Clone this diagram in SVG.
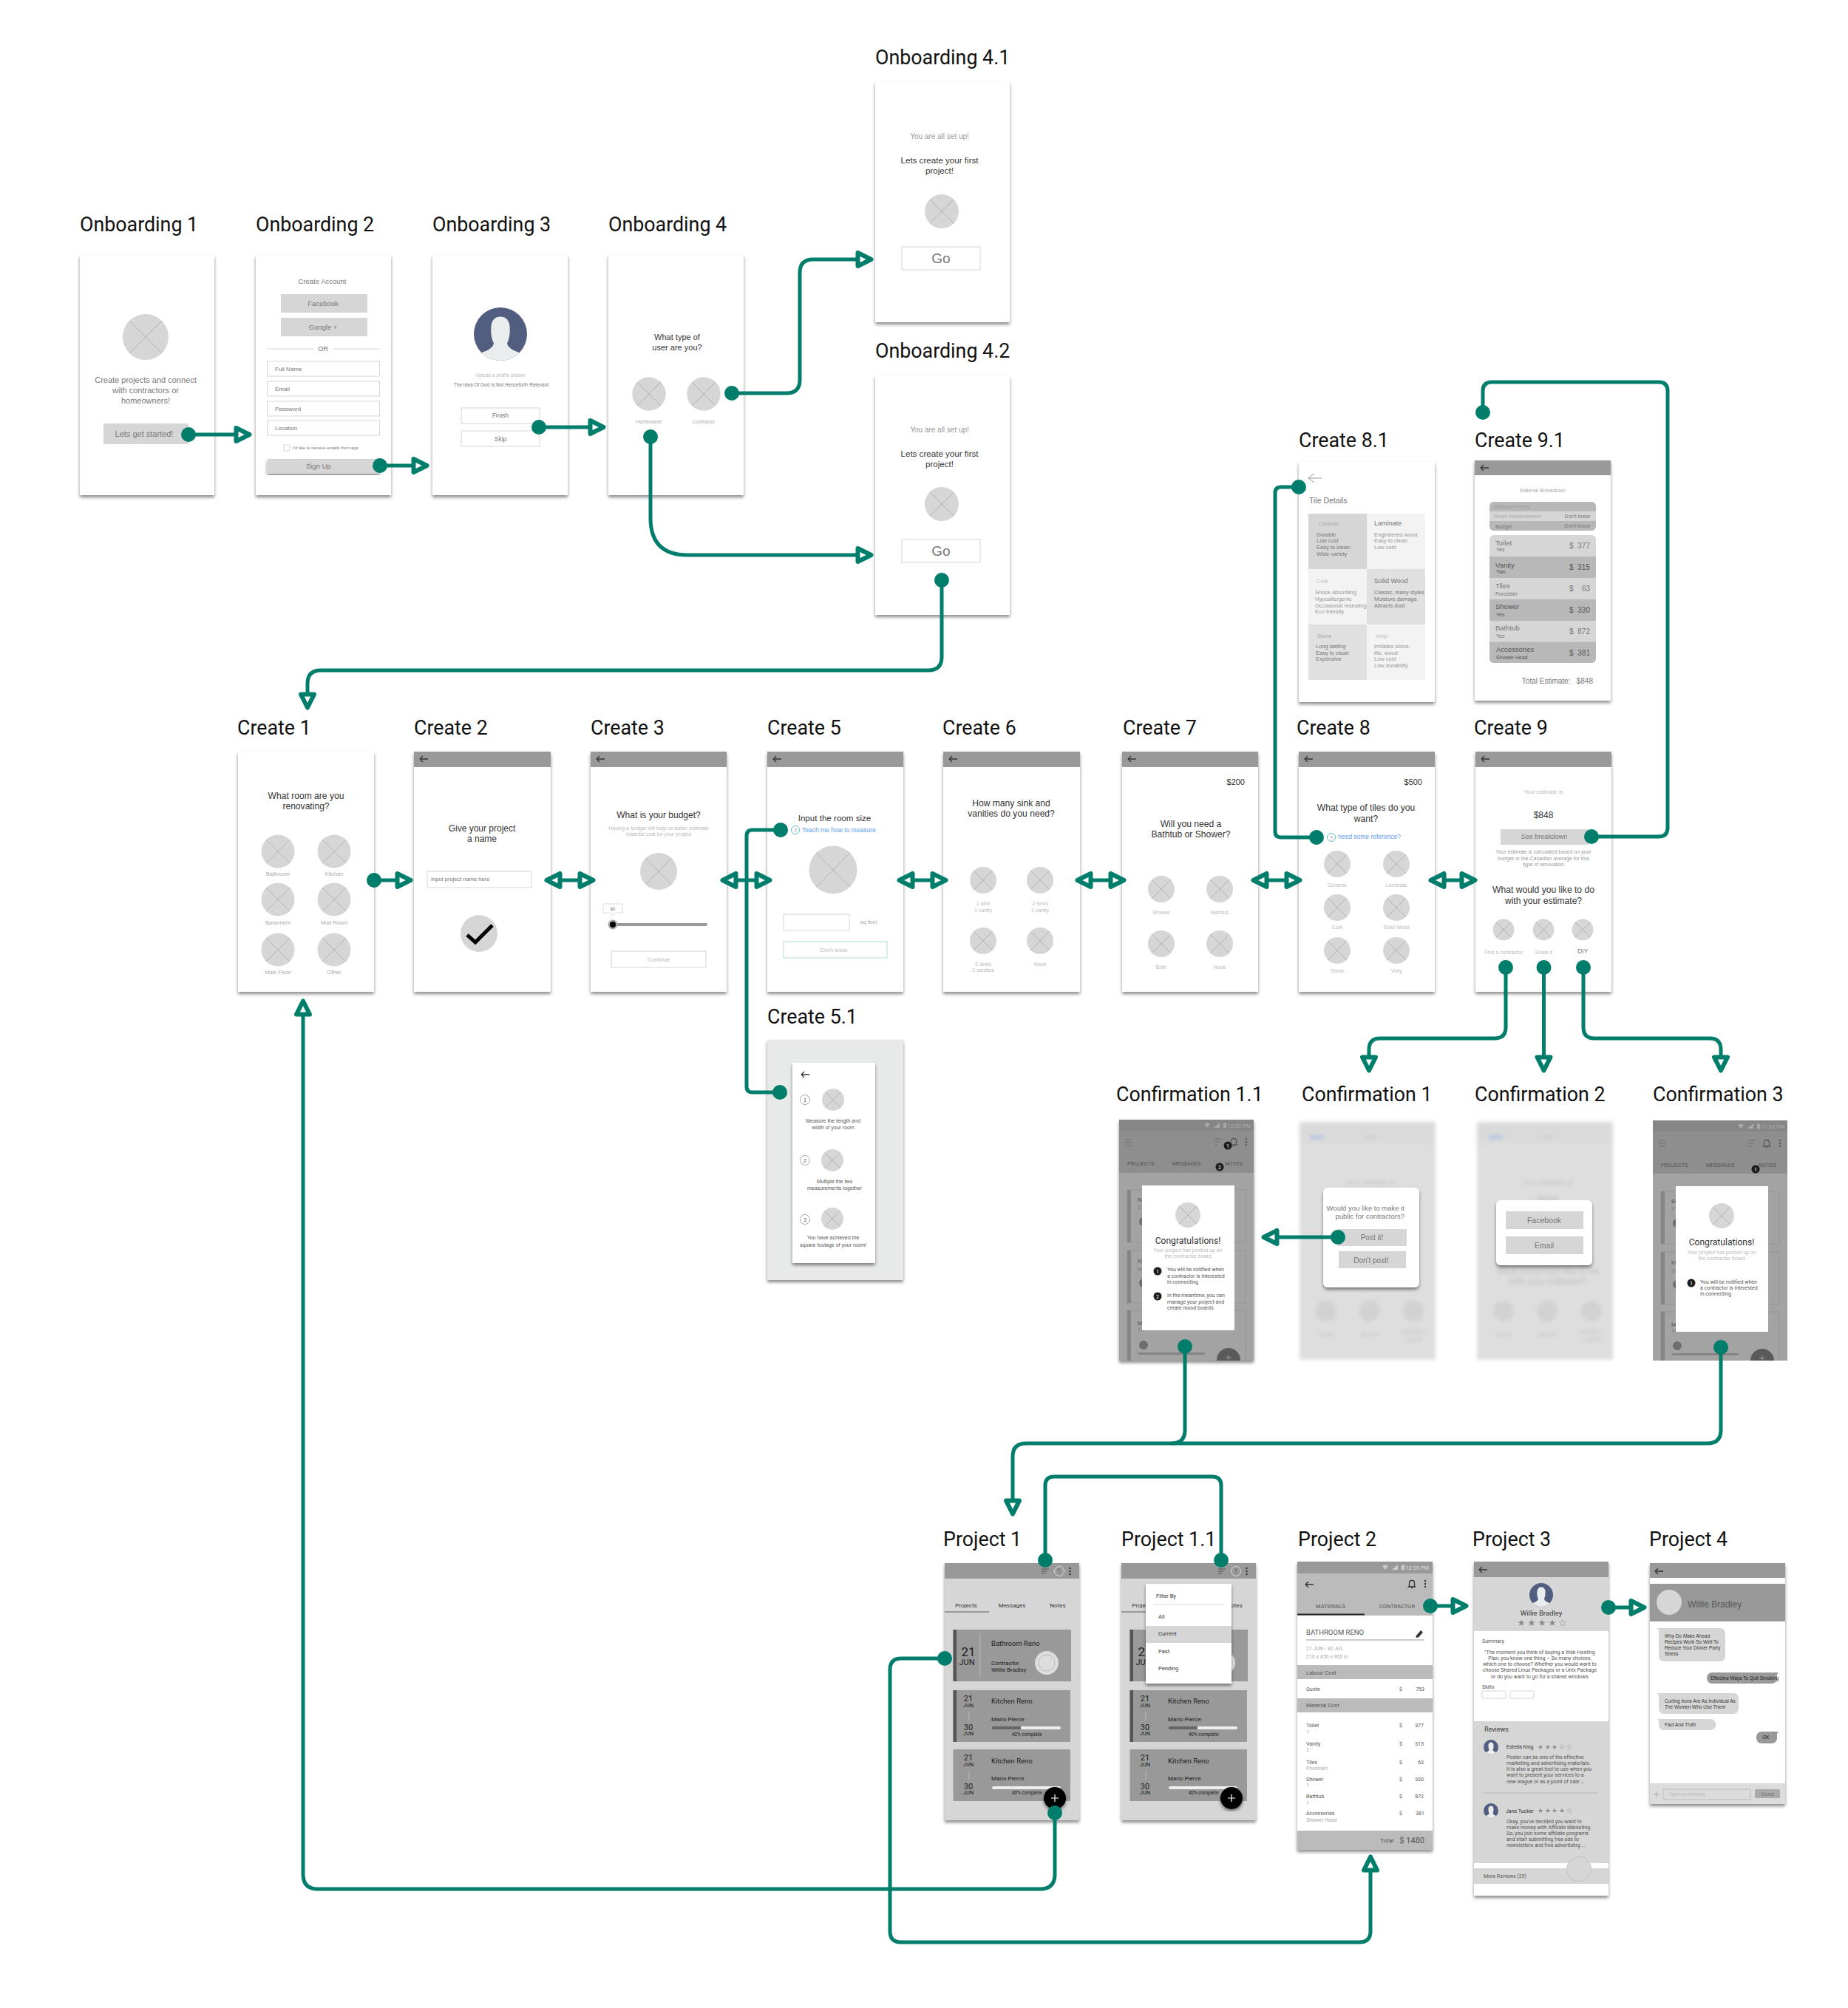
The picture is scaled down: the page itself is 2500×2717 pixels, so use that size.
<svg xmlns="http://www.w3.org/2000/svg" width="2500" height="2717" viewBox="0 0 2500 2717">
<style>
text{font-family:"Liberation Sans",Arial,sans-serif;fill:#555}
.lb{font-family:Roboto,Arial,sans-serif;font-size:26.8px;fill:#111}
.ro{font-family:Roboto,Arial,sans-serif}
.m{text-anchor:middle}.e{text-anchor:end}
.f6{font-size:6px}.f65{font-size:6.5px}.f7{font-size:7px}.f75{font-size:7.5px}.f8{font-size:8px}.f85{font-size:8.5px}.f9{font-size:9px}.f95{font-size:9.5px}.f10{font-size:10px}.f105{font-size:10.5px}.f11{font-size:11px}.f115{font-size:11px}.f12{font-size:11.6px}.f125{font-size:12.100px}.f13{font-size:12px}.f17{font-size:17px}.f19{font-size:19px}
text.c1{fill:#1c1c1c}text.c3{fill:#333}text.c5{fill:#555}text.c7{fill:#777}text.c9{fill:#999}text.ca{fill:#aaa}text.cb{fill:#bbb}text.cd{fill:#ddd}text.cw{fill:#fff}text.bl{fill:#5b9df5}
.scr{fill:#fff;filter:url(#sh)}.hd{fill:#999}.g{fill:#d6d6d6}.g2{fill:#b8b8b9}.g3{fill:#bbb}.g4{fill:#f3f3f3}.g5{fill:#e0e0e0}
.box{fill:#fff;stroke:#d6d6d6;stroke-width:1}.line{stroke:#d6d6d6;stroke-width:1;fill:none}
.ic{fill:none;stroke:#333;stroke-width:1.3}.icw{fill:none;stroke:#eee;stroke-width:1.3}
.sf{fill:#8a8a8a}.se{fill:none;stroke:#aaa;stroke-width:.8}
.bb{fill:#1c1c1c}.q{fill:#fff;stroke:#5bc0be;stroke-width:1}
.conn path{fill:none;stroke:#017d6b;stroke-width:5}
.d{marker-start:url(#dot)}.dd{marker-start:url(#dot);marker-end:url(#dot)}.da{marker-start:url(#dot);marker-end:url(#ar)}.aa{marker-start:url(#ar);marker-end:url(#ar)}
</style>
<defs>
<filter id="sh" x="-10%" y="-5%" width="120%" height="112%"><feDropShadow dx="0" dy="3" stdDeviation="2" flood-color="#000" flood-opacity=".45"/></filter>
<filter id="bl" x="-5%" y="-5%" width="110%" height="110%"><feGaussianBlur stdDeviation="2.400"/></filter>
<clipPath id="avc"><circle r="10"/></clipPath>
<clipPath id="c11"><rect x="1514" y="1515" width="182" height="326"/></clipPath>
<clipPath id="c3c"><rect x="2236" y="1516" width="182" height="325"/></clipPath>
<g id="ph"><circle r="10" fill="#d6d6d6"/><path d="M-7 -7L7 7M-7 7L7 -7" stroke="#aaa" vector-effect="non-scaling-stroke" stroke-width=".8" fill="none"/></g>
<g id="av"><circle r="10" fill="#525e80"/><path clip-path="url(#avc)" fill="#e9eded" d="M-8 10V7.2Q-3 6 -2.5 3.5Q-3.8 1 -3.5 -3Q-3 -6.5 0 -6.5Q3 -6.5 3.5 -3Q3.8 1 2.5 3.5Q3 6 8 7.2V10Z"/></g>
<path id="ba" d="M-5 0H6M-5 0L-1 -4M-5 0L-1 4" class="ic"/>
<polygon id="st" points="0,-5 1.18,-1.55 4.76,-1.55 1.9,.62 2.94,4.05 0,1.9 -2.94,4.05 -1.9,.62 -4.76,-1.55 -1.18,-1.55"/>
<g id="keb"><circle cy="-4" r="1.2" fill="#333"/><circle r="1.2" fill="#333"/><circle cy="4" r="1.2" fill="#333"/></g>
<path id="bell" d="M-3.5 3V-1Q-3.5 -4.5 0 -4.5Q3.5 -4.5 3.5 -1V3L4.5 4H-4.5ZM-1 5.5H1" class="ic"/>
<path id="flt" d="M-5 -3H5M-5 0H2M-5 3H0" fill="none" stroke="#555" stroke-width="1"/>
<g id="stat" fill="#ccc"><path d="M-4 -2Q0 -5 4 -2L0 3Z"/><path d="M9 3H17V-4Z"/><rect x="22" y="-3.5" width="4" height="7"/></g>
<marker id="dot" markerUnits="userSpaceOnUse" markerWidth="22" markerHeight="22" viewBox="0 0 22 22" refX="11" refY="11"><circle cx="11" cy="11" r="10" fill="#017d6b"/></marker>
<marker id="ar" markerUnits="userSpaceOnUse" markerWidth="30" markerHeight="30" viewBox="0 0 30 30" refX="5" refY="15" orient="auto-start-reverse"><path d="M5 6L23 15L5 24Z" fill="#fff" stroke="#017d6b" stroke-width="6" stroke-linejoin="round"/></marker>
</defs>
<rect width="2500" height="2717" fill="#fff"/>

<g id="onboarding-1"><text class="lb" x="108" y="313">Onboarding 1</text><rect class="scr" x="108" y="345" width="182" height="325"/>
<use href="#ph" transform="translate(197 456) scale(3.1)"/>
<text class="f115 m c7" x="197" y="518">Create projects and connect</text><text class="f115 m c7" x="197" y="532">with contractors or</text><text class="f115 m c7" x="197" y="546">homeowners!</text>
<rect class="g" x="140" y="573" width="115" height="28"/><text class="f11 m c7" x="195" y="591">Lets get started!</text></g>

<g id="onboarding-2"><text class="lb" x="346" y="313">Onboarding 2</text><rect class="scr" x="346" y="345" width="183" height="325"/>
<text class="f95 m c7" x="436" y="384">Create Account</text>
<rect class="g" x="380" y="398" width="117" height="25"/><text class="f95 m c7" x="437" y="414">Facebook</text>
<rect class="g" x="380" y="430" width="117" height="25"/><text class="f95 m c7" x="437" y="446">Google +</text>
<path class="line" d="M361.500 472H425M450 472H514"/><text class="f95 m c7" x="437" y="475">OR</text>
<rect class="box" x="361.500" y="489" width="152" height="20"/><text class="f8 c7" x="372" y="502">Full Name</text>
<rect class="box" x="361.500" y="516" width="152" height="20"/><text class="f8 c7" x="372" y="529">Email</text>
<rect class="box" x="361.500" y="543" width="152" height="20"/><text class="f8 c7" x="372" y="556">Password</text>
<rect class="box" x="361.500" y="569" width="152" height="20"/><text class="f8 c7" x="372" y="582">Location</text>
<rect class="box" x="384" y="602" width="8" height="8"/><text class="f6 c7" x="396" y="608">I'd like to receive emails from app</text>
<rect x="361.500" y="621" width="152" height="20" fill="#d6d6d6" style="filter:url(#sh)"/><text class="f95 m c7" x="431" y="634">Sign Up</text></g>

<g id="onboarding-3"><text class="lb" x="585" y="313">Onboarding 3</text><rect class="scr" x="585" y="345" width="183" height="325"/>
<use href="#av" transform="translate(677 452) scale(3.6)"/>
<text class="f65 m cb" x="677" y="510">Upload a profile picture</text><text class="f65 m c7" x="678" y="523">The Idea Of God Is Not Henceforth Relevant</text>
<rect class="box" x="624" y="552" width="106" height="21"/><text class="f85 m c7" x="677" y="565">Finish</text>
<rect class="box" x="624" y="583" width="106" height="21"/><text class="f85 m c7" x="677" y="597">Skip</text></g>

<g id="onboarding-4"><text class="lb" x="823" y="313">Onboarding 4</text><rect class="scr" x="823" y="345" width="183" height="325"/>
<text class="f115 m c3" x="916" y="460">What type of</text><text class="f115 m c3" x="916" y="474">user are you?</text>
<use href="#ph" transform="translate(878 533) scale(2.27)"/><use href="#ph" transform="translate(952 533) scale(2.27)"/>
<text class="f65 m ca" x="878" y="573">Homeowner</text><text class="f65 m ca" x="952" y="573">Contractor</text></g>

<g id="onboarding-4-1"><text class="lb" x="1184" y="87">Onboarding 4.1</text><rect class="scr" x="1184" y="111" width="182" height="325"/>
<text class="f10 m c9" x="1271" y="188">You are all set up!</text><text class="f12 m c3" x="1271" y="221">Lets create your first</text><text class="f12 m c3" x="1271" y="235">project!</text>
<use href="#ph" transform="translate(1274 286) scale(2.3)"/>
<rect class="box" x="1220" y="334" width="106" height="31"/><text class="f19 m c7" x="1273" y="356">Go</text></g>

<g id="onboarding-4-2"><text class="lb" x="1184" y="484">Onboarding 4.2</text><rect class="scr" x="1184" y="508" width="182" height="324"/>
<text class="f10 m c9" x="1271" y="585">You are all set up!</text><text class="f12 m c3" x="1271" y="618">Lets create your first</text><text class="f12 m c3" x="1271" y="632">project!</text>
<use href="#ph" transform="translate(1274 682) scale(2.3)"/>
<rect class="box" x="1220" y="730" width="106" height="31"/><text class="f19 m c7" x="1273" y="752">Go</text></g>

<g id="create-1"><text class="lb" x="321" y="994">Create 1</text><rect class="scr" x="322" y="1017" width="184" height="325"/>
<text class="f125 m c3" x="414" y="1081">What room are you</text><text class="f125 m c3" x="414" y="1095">renovating?</text>
<use href="#ph" transform="translate(376 1152) scale(2.25)"/><use href="#ph" transform="translate(452 1152) scale(2.25)"/>
<use href="#ph" transform="translate(376 1217) scale(2.25)"/><use href="#ph" transform="translate(452 1217) scale(2.25)"/>
<use href="#ph" transform="translate(376 1285) scale(2.25)"/><use href="#ph" transform="translate(452 1285) scale(2.25)"/>
<text class="f75 m ca" x="376" y="1185">Bathroom</text><text class="f75 m ca" x="452" y="1185">Kitchen</text><text class="f75 m ca" x="376" y="1251">Basement</text><text class="f75 m ca" x="452" y="1251">Mud Room</text><text class="f75 m ca" x="376" y="1318">Main Floor</text><text class="f75 m ca" x="452" y="1318">Other</text></g>

<g id="create-2"><text class="lb" x="560" y="994">Create 2</text><rect class="scr" x="560" y="1017" width="185" height="325"/><rect class="hd" x="560" y="1017" width="185" height="21"/><use href="#ba" x="573" y="1027"/>
<text class="f13 m c3" x="652" y="1125">Give your project</text><text class="f13 m c3" x="652" y="1139">a name</text>
<rect class="box" x="578" y="1179" width="141" height="22"/><text class="f75 c7" x="583" y="1192">Input project name here</text>
<circle class="g" cx="648" cy="1263" r="25"/><path d="M632 1265L643 1275L666 1252" fill="none" stroke="#000" stroke-width="5"/></g>

<g id="create-3"><text class="lb" x="799" y="994">Create 3</text><rect class="scr" x="799" y="1017" width="184" height="325"/><rect class="hd" x="799" y="1017" width="184" height="21"/><use href="#ba" x="812" y="1027"/>
<text class="f13 m c3" x="891" y="1107">What is your budget?</text><text class="f7 m cb" x="891" y="1123">Having a budget will help us better estimate</text><text class="f7 m cb" x="891" y="1131">material cost for your project</text>
<use href="#ph" transform="translate(891 1179) scale(2.5)"/>
<path d="M816 1223H842V1235H833L829 1239L825 1235H816Z" fill="#fff" stroke="#ddd" stroke-width="1"/><text class="f6 m c7" x="829" y="1232">$0</text>
<path d="M829 1251H955" stroke="#999" stroke-width="4" stroke-linecap="round"/><circle cx="829" cy="1251" r="6.500" fill="#aaa"/><circle cx="829" cy="1251" r="4" fill="#000"/>
<rect class="box" x="827" y="1287" width="128" height="22"/><text class="f75 m cb" x="891" y="1301">Continue</text></g>

<g id="create-5"><text class="lb" x="1038" y="994">Create 5</text><rect class="scr" x="1038" y="1017" width="184" height="325"/><rect class="hd" x="1038" y="1017" width="184" height="21"/><use href="#ba" x="1051" y="1027"/>
<text class="f12 m c3" x="1129" y="1111">Input the room size</text><circle class="q" cx="1076" cy="1123" r="5.500"/><text class="f7 m c7" x="1076" y="1126">?</text><text class="f85 bl" x="1085" y="1126">Teach me how to measure</text>
<use href="#ph" transform="translate(1127 1177) scale(3.25)"/>
<rect class="box" x="1060" y="1237" width="89" height="22"/><text class="f75 m ca" x="1175" y="1250">sq feet</text>
<rect x="1060" y="1274" width="140" height="22" fill="#fff" stroke="#a8dcd9"/><text class="f75 m cb" x="1128" y="1288">Don't know</text></g>

<g id="create-6"><text class="lb" x="1275" y="994">Create 6</text><rect class="scr" x="1276" y="1017" width="185" height="325"/><rect class="hd" x="1276" y="1017" width="185" height="21"/><use href="#ba" x="1289" y="1027"/>
<text class="f125 m c3" x="1368" y="1091">How many sink and</text><text class="f125 m c3" x="1368" y="1105">vanities do you need?</text>
<use href="#ph" transform="translate(1330 1191) scale(1.8)"/><use href="#ph" transform="translate(1407 1191) scale(1.8)"/><use href="#ph" transform="translate(1330 1273) scale(1.8)"/><use href="#ph" transform="translate(1407 1273) scale(1.8)"/>
<text class="f7 m cb" x="1330" y="1225">1 sink</text><text class="f7 m cb" x="1330" y="1234">1 vanity</text><text class="f7 m cb" x="1407" y="1225">2 sinks</text><text class="f7 m cb" x="1407" y="1234">1 vanity</text><text class="f7 m cb" x="1330" y="1307">2 sinks</text><text class="f7 m cb" x="1330" y="1315">2 vanities</text><text class="f7 m cb" x="1407" y="1307">None</text></g>

<g id="create-7"><text class="lb" x="1519" y="994">Create 7</text><rect class="scr" x="1518" y="1017" width="184" height="325"/><rect class="hd" x="1518" y="1017" width="184" height="21"/><use href="#ba" x="1531" y="1027"/>
<text class="f11 e c3" x="1684" y="1062">$200</text><text class="f125 m c3" x="1611" y="1119">Will you need a</text><text class="f125 m c3" x="1611" y="1133">Bathtub or Shower?</text>
<use href="#ph" transform="translate(1571 1203) scale(1.8)"/><use href="#ph" transform="translate(1650 1203) scale(1.8)"/><use href="#ph" transform="translate(1571 1277) scale(1.8)"/><use href="#ph" transform="translate(1650 1277) scale(1.8)"/>
<text class="f7 m cb" x="1571" y="1237">Shower</text><text class="f7 m cb" x="1650" y="1237">Bathtub</text><text class="f7 m cb" x="1571" y="1311">Both</text><text class="f7 m cb" x="1650" y="1311">None</text></g>

<g id="create-8"><text class="lb" x="1754" y="994">Create 8</text><rect class="scr" x="1757" y="1017" width="184" height="325"/><rect class="hd" x="1757" y="1017" width="184" height="21"/><use href="#ba" x="1770" y="1027"/>
<text class="f11 e c3" x="1924" y="1062">$500</text><text class="f125 m c3" x="1848" y="1097">What type of tiles do you</text><text class="f125 m c3" x="1848" y="1112">want?</text>
<circle class="q" cx="1801" cy="1133" r="5.500"/><text class="f7 m c7" x="1801" y="1136">?</text><text class="f85 bl" x="1810" y="1135">need some reference?</text>
<use href="#ph" transform="translate(1809 1169) scale(1.8)"/><use href="#ph" transform="translate(1889 1169) scale(1.8)"/><use href="#ph" transform="translate(1809 1228) scale(1.8)"/><use href="#ph" transform="translate(1889 1228) scale(1.8)"/><use href="#ph" transform="translate(1809 1286) scale(1.8)"/><use href="#ph" transform="translate(1889 1286) scale(1.8)"/>
<text class="f7 m cb" x="1809" y="1200">Ceramic</text><text class="f7 m cb" x="1889" y="1200">Laminate</text><text class="f7 m cb" x="1809" y="1257">Cork</text><text class="f7 m cb" x="1889" y="1257">Solid Wood</text><text class="f7 m cb" x="1809" y="1316">Stone</text><text class="f7 m cb" x="1889" y="1316">Vinly</text></g>

<g id="create-9"><text class="lb" x="1994" y="994">Create 9</text><rect class="scr" x="1996" y="1017" width="184" height="325"/><rect class="hd" x="1996" y="1017" width="184" height="21"/><use href="#ba" x="2009" y="1027"/>
<text class="f75 m cb" x="2088" y="1074">Your estimate is</text><text class="f13 m c3" x="2088" y="1107">$848</text>
<rect class="g" x="2030" y="1122" width="119" height="21"/><text class="f9 m c7" x="2089" y="1135">See breakdown</text>
<text class="f7 m c9" x="2088" y="1155">Your estimate is calculated based on your</text><text class="f7 m c9" x="2088" y="1164">budget or the Canadian average for this</text><text class="f7 m c9" x="2088" y="1172">type of renovation</text>
<text class="f125 m c3" x="2088" y="1208">What would you like to do</text><text class="f125 m c3" x="2088" y="1223">with your estimate?</text>
<use href="#ph" transform="translate(2034 1258) scale(1.45)"/><use href="#ph" transform="translate(2088 1258) scale(1.45)"/><use href="#ph" transform="translate(2141 1258) scale(1.45)"/>
<text class="f7 m cb" x="2034" y="1291">Find a contractor</text><text class="f7 m cb" x="2088" y="1291">Share it</text><text class="f85 m c7" x="2141" y="1290">DIY</text></g>

<g id="create-5-1"><text class="lb" x="1038" y="1385">Create 5.1</text><rect x="1038" y="1407" width="184" height="325" fill="#e8eaea" style="filter:url(#sh)"/><rect class="scr" x="1072" y="1438" width="112" height="271"/>
<use href="#ba" x="1089" y="1454"/>
<circle cx="1089" cy="1488" r="6.500" fill="#fff" stroke="#aaa"/><text class="f7 m c5" x="1089" y="1490.500">1</text><use href="#ph" transform="translate(1127 1488) scale(1.5)"/>
<text class="f7 m c5" x="1127" y="1519">Measure the length and</text><text class="f7 m c5" x="1127" y="1528">width of your room</text>
<circle cx="1089" cy="1570" r="6.500" fill="#fff" stroke="#aaa"/><text class="f7 m c5" x="1089" y="1572.500">2</text><use href="#ph" transform="translate(1126 1570) scale(1.5)"/>
<text class="f7 m c5" x="1129" y="1601">Multiple the two</text><text class="f7 m c5" x="1129" y="1610">measurements together</text>
<circle cx="1089" cy="1650" r="6.500" fill="#fff" stroke="#aaa"/><text class="f7 m c5" x="1089" y="1652.500">3</text><use href="#ph" transform="translate(1126 1649) scale(1.5)"/>
<text class="f7 m c5" x="1127" y="1677">You have achieved the</text><text class="f7 m c5" x="1127" y="1687">square footage of your room!</text></g>

<g id="create-8-1"><text class="lb" x="1757" y="605">Create 8.1</text><rect class="scr" x="1757" y="625" width="184" height="325"/>
<path d="M1770 647H1788M1770 647L1778 641M1770 647L1778 653" fill="none" stroke="#999"/>
<text class="f105 c7" x="1771" y="681">Tile Details</text>
<rect class="g" x="1770" y="695" width="79" height="75"/><rect class="g4" x="1849" y="695" width="79" height="75"/><rect class="g4" x="1770" y="770" width="79" height="75"/><rect class="g5" x="1849" y="770" width="79" height="75"/><rect class="g5" x="1770" y="845" width="79" height="75"/><rect class="g4" x="1849" y="845" width="79" height="75"/>
<text class="f75 ca" x="1784" y="711">Ceramic</text><text class="f75 c7" x="1781" y="726">Durable</text><text class="f75 c7" x="1781" y="734">Low cost</text><text class="f75 c7" x="1781" y="743">Easy to clean</text><text class="f75 c7" x="1781" y="752">Wide  variety</text>
<text class="f9 c7" x="1859" y="711">Laminate</text><text class="f75 c9" x="1859" y="726">Engineered wood</text><text class="f75 c9" x="1859" y="734">Easy to clean</text><text class="f75 c9" x="1859" y="743">Low cost</text>
<text class="f75 cb" x="1781" y="789">Cork</text><text class="f75 c9" x="1779" y="804">Shock absorbing</text><text class="f75 c9" x="1779" y="813">Hypoallergenic</text><text class="f75 c9" x="1779" y="822">Occasional resealing</text><text class="f75 c9" x="1779" y="830">Eco friendly</text>
<text class="f9 c7" x="1859" y="789">Solid Wood</text><text class="f75 c7" x="1859" y="804">Classic, many styles</text><text class="f75 c7" x="1859" y="813">Moisture damage</text><text class="f75 c7" x="1859" y="822">Attracts dust</text>
<text class="f75 ca" x="1782" y="863">Stone</text><text class="f75 c7" x="1780" y="877">Long lasting</text><text class="f75 c7" x="1780" y="886">Easy to clean</text><text class="f75 c7" x="1780" y="894">Expensive</text>
<text class="f75 cb" x="1861" y="863">Vinyl</text><text class="f75 c9" x="1859" y="877">Imitates stone,</text><text class="f75 c9" x="1859" y="886">tile, wood</text><text class="f75 c9" x="1859" y="894">Low  cost</text><text class="f75 c9" x="1859" y="903">Low durability</text></g>

<g id="create-9-1"><text class="lb" x="1995" y="605">Create 9.1</text><rect class="scr" x="1995" y="623" width="184" height="325"/><rect class="hd" x="1995" y="623" width="184" height="20"/><use href="#ba" x="2008" y="633"/>
<text class="f7 m ca" x="2087" y="666">Material Breakdown</text>
<rect class="g" x="2015" y="679" width="144" height="39" rx="6"/><path class="g2" d="M2015 692V685a6 6 0 0 1 6 -6H2153a6 6 0 0 1 6 6V692ZM2015 705H2159V712a6 6 0 0 1 -6 6H2021a6 6 0 0 1 -6 -6Z"/>
<text class="f7 c9" x="2021" y="688">Bathroom Reno</text><text class="f7 ca" x="2021" y="701">Room Measurement</text><text class="f7 e c7" x="2151" y="701">Don't know</text><text class="f7 c7" x="2023" y="715">Budget</text><text class="f7 e c7" x="2151" y="714">Don't know</text>
<rect class="g" x="2015" y="724" width="144" height="173" rx="6"/><rect class="g2" x="2015" y="753" width="144" height="29"/><rect class="g2" x="2015" y="811" width="144" height="29"/><path class="g2" d="M2015 868.500H2159V891a6 6 0 0 1 -6 6H2021a6 6 0 0 1 -6 -6Z"/>
<text class="f95 c7" x="2023" y="738">Toilet</text><text class="f7 c7" x="2024" y="746">Yes</text><text class="f10 c7" x="2123" y="742">$</text><text class="f10 e c7" x="2151" y="742">377</text>
<text class="f95 c5" x="2023" y="768">Vanity</text><text class="f7 c5" x="2024" y="776">Two</text><text class="f10 c5" x="2123" y="771">$</text><text class="f10 e c5" x="2151" y="771">315</text>
<text class="f95 c7" x="2023" y="796">Tiles</text><text class="f7 c7" x="2023" y="806">Porcelain</text><text class="f10 c7" x="2123" y="800">$</text><text class="f10 e c7" x="2151" y="800">63</text>
<text class="f95 c5" x="2023" y="824">Shower</text><text class="f7 c5" x="2024" y="834">Yes</text><text class="f10 c5" x="2123" y="829">$</text><text class="f10 e c5" x="2151" y="829">330</text>
<text class="f95 c7" x="2023" y="853">Bathtub</text><text class="f7 c7" x="2024" y="863">Yes</text><text class="f10 c7" x="2123" y="858">$</text><text class="f10 e c7" x="2151" y="858">872</text>
<text class="f95 c5" x="2024" y="882">Accessories</text><text class="f7 c5" x="2024" y="892">Shower Head</text><text class="f10 c5" x="2123" y="887">$</text><text class="f10 e c5" x="2151" y="887">381</text>
<text class="f10 e c7" x="2155" y="925" xml:space="preserve">Total Estimate:   $848</text></g>

<g id="confirmation-1-1"><text class="lb" x="1510" y="1490">Confirmation 1.1</text><rect x="1514" y="1515" width="182" height="326" fill="#a3a3a3" style="filter:url(#sh)"/>
<g clip-path="url(#c11)"><rect x="1514" y="1515" width="182" height="72" fill="#8e8e8e"/><rect x="1514" y="1515" width="182" height="15" fill="#868686"/>
<use href="#stat" x="1633" y="1523" opacity=".5"/><text class="ro f75 e ca" x="1692" y="1526">12:30 PM</text>
<path d="M1522 1542H1531M1522 1546H1531M1522 1550H1531M1643 1541H1653M1643 1545H1650M1643 1549H1647" stroke="#6e6e6e" fill="none"/><use href="#bell" x="1669" y="1545" opacity=".6"/><use href="#keb" x="1686" y="1545" opacity=".6"/>
<text class="ro f75 c5" x="1525" y="1577">PROJECTS</text><text class="ro f75 c5" x="1586" y="1577">MESSAGES</text><text class="ro f75 c5" x="1657" y="1577">NOTES</text>
<circle class="bb" cx="1661" cy="1550" r="5.500"/><text class="ro f7 m cw" x="1661" y="1552.500">1</text><circle class="bb" cx="1650" cy="1579" r="5.500"/><text class="ro f7 m cw" x="1650" y="1581.500">2</text>
<rect x="1525" y="1610" width="160" height="71" fill="#a3a3a3" stroke="#969696"/><rect x="1525" y="1610" width="5" height="71" fill="#858585"/><rect x="1525" y="1692" width="160" height="71" fill="#a3a3a3" stroke="#969696"/><rect x="1525" y="1692" width="5" height="71" fill="#858585"/><rect x="1525" y="1773" width="160" height="80" fill="#a3a3a3" stroke="#969696"/><rect x="1525" y="1773" width="5" height="80" fill="#858585"/>
<text class="ro f75 c5" x="1539" y="1626">Ba</text><text class="ro f75 c7" x="1539" y="1636">21</text><text class="ro f75 c5" x="1539" y="1709">Ki</text><text class="ro f75 c7" x="1539" y="1720">08</text><text class="ro f75 c5" x="1539" y="1793">Mi</text><text class="ro f75 c7" x="1539" y="1801">14</text>
<circle cx="1547" cy="1653" r="6" fill="#6e6e6e"/><circle cx="1547" cy="1736" r="6" fill="#6e6e6e"/><circle cx="1547" cy="1820" r="6" fill="#6e6e6e"/><rect x="1540" y="1830" width="90" height="3" fill="#858585"/>
<circle cx="1662" cy="1840" r="16" fill="#5a5a5a"/><path d="M1662 1833V1841M1658 1837H1666" stroke="#999"/>
<rect x="1545" y="1604" width="125" height="196" fill="#fff"/>
<use href="#ph" transform="translate(1607 1644) scale(1.7)"/><text class="ro f125 m c3" x="1607" y="1683">Congratulations!</text><text class="ro f7 m cb" x="1607" y="1694">Your project has posted up on</text><text class="ro f7 m cb" x="1607" y="1702">the contractor board</text>
<circle class="bb" cx="1566" cy="1720" r="5.500"/><text class="ro f7 m cw" x="1566" y="1722.500">1</text><text class="ro f7 c5" x="1579" y="1720">You will be notified when</text><text class="ro f7 c5" x="1579" y="1729">a contractor is interested</text><text class="ro f7 c5" x="1579" y="1737">in connecting</text>
<circle class="bb" cx="1566" cy="1754" r="5.500"/><text class="ro f7 m cw" x="1566" y="1756.500">2</text><text class="ro f7 c5" x="1579" y="1755">In the meantime, you can</text><text class="ro f7 c5" x="1579" y="1764">manage your project and</text><text class="ro f7 c5" x="1579" y="1772">create mood boards</text></g></g>

<g id="confirmation-1"><text class="lb" x="1761" y="1490">Confirmation 1</text>
<g filter="url(#bl)"><rect x="1758" y="1518" width="184" height="322" fill="#dedede"/><rect x="1758" y="1518" width="184" height="30" fill="#dadada"/><text class="f8 bl" x="1773" y="1541">Back</text><text class="f8 m cb" x="1854" y="1541">Title</text><text class="f95 m cb" x="1854" y="1603">Your estimate is</text>
<circle cx="1794" cy="1774" r="14" fill="#d2d2d2"/><circle cx="1853" cy="1774" r="14" fill="#d2d2d2"/><circle cx="1912" cy="1774" r="14" fill="#d2d2d2"/><text class="f75 m cb" x="1794" y="1808">Post it</text><text class="f75 m cb" x="1853" y="1808">Share it</text><text class="f75 m cb" x="1912" y="1804">Manage it</text><text class="f75 m cb" x="1912" y="1815">myself</text></g>
<rect class="scr" x="1790" y="1607" width="130" height="135" rx="6"/><text class="f95 e c7" x="1900" y="1638">Would you like to make it</text><text class="f95 e c7" x="1900" y="1649">public for contractors?</text>
<rect class="g" x="1810" y="1663" width="93" height="23"/><text class="f10 m c7" x="1856" y="1678">Post it!</text><rect class="g" x="1811" y="1693" width="91" height="23"/><text class="f10 m c7" x="1855" y="1709">Don't post!</text></g>

<g id="confirmation-2"><text class="lb" x="1995" y="1490">Confirmation 2</text>
<g filter="url(#bl)"><rect x="1998" y="1518" width="184" height="322" fill="#dedede"/><rect x="1998" y="1518" width="184" height="30" fill="#dadada"/><text class="f8 bl" x="2015" y="1541">Back</text><text class="f8 m cb" x="2094" y="1541">Title</text><text class="f95 m cb" x="2094" y="1603">Your estimate is</text><text class="f13 m cb" x="2094" y="1627">$848</text><text class="f125 m cb" x="2094" y="1724">What would you like to do</text><text class="f125 m cb" x="2094" y="1738">with your estimate?</text>
<circle cx="2034" cy="1774" r="14" fill="#d2d2d2"/><circle cx="2093" cy="1774" r="14" fill="#d2d2d2"/><circle cx="2153" cy="1774" r="14" fill="#d2d2d2"/><text class="f75 m cb" x="2034" y="1808">Post it</text><text class="f75 m cb" x="2093" y="1808">Share it</text><text class="f75 m cb" x="2153" y="1804">Manage it</text><text class="f75 m cb" x="2153" y="1815">myself</text></g>
<rect class="scr" x="2024" y="1624" width="130" height="88" rx="6"/><rect class="g" x="2037" y="1639" width="105" height="24"/><text class="f105 m c7" x="2089" y="1655">Facebook</text><rect class="g" x="2037" y="1673" width="105" height="24"/><text class="f105 m c7" x="2089" y="1689">Email</text></g>

<g id="confirmation-3"><text class="lb" x="2236" y="1490">Confirmation 3</text><rect x="2236" y="1516" width="182" height="325" fill="#a3a3a3"/>
<g clip-path="url(#c3c)"><rect x="2236" y="1516" width="182" height="72" fill="#8e8e8e"/><rect x="2236" y="1516" width="182" height="15" fill="#868686"/>
<use href="#stat" x="2355" y="1524" opacity=".5"/><text class="ro f75 e ca" x="2414" y="1527">12:30 PM</text>
<path d="M2244 1543H2253M2244 1547H2253M2244 1551H2253M2365 1543H2375M2365 1547H2372M2365 1551H2369" stroke="#6e6e6e" fill="none"/><use href="#bell" x="2390" y="1547" opacity=".6"/><use href="#keb" x="2408" y="1547" opacity=".6"/>
<text class="ro f75 c5" x="2247" y="1579">PROJECTS</text><text class="ro f75 c5" x="2308" y="1579">MESSAGES</text><text class="ro f75 c5" x="2379" y="1579">NOTES</text>
<circle class="bb" cx="2375" cy="1582" r="5.500"/><text class="ro f7 m cw" x="2375" y="1584.500">1</text>
<rect x="2247" y="1612" width="160" height="71" fill="#a3a3a3" stroke="#969696"/><rect x="2247" y="1612" width="5" height="71" fill="#858585"/><rect x="2247" y="1694" width="160" height="71" fill="#a3a3a3" stroke="#969696"/><rect x="2247" y="1694" width="5" height="71" fill="#858585"/><rect x="2247" y="1775" width="160" height="80" fill="#a3a3a3" stroke="#969696"/><rect x="2247" y="1775" width="5" height="80" fill="#858585"/>
<text class="ro f75 c5" x="2261" y="1628">Ba</text><text class="ro f75 c7" x="2261" y="1638">21</text><text class="ro f75 c5" x="2261" y="1711">Ki</text><text class="ro f75 c7" x="2261" y="1722">08</text><text class="ro f75 c5" x="2261" y="1795">Mi</text><text class="ro f75 c7" x="2261" y="1803">14</text>
<circle cx="2269" cy="1655" r="6" fill="#6e6e6e"/><circle cx="2269" cy="1738" r="6" fill="#6e6e6e"/><circle cx="2269" cy="1821" r="6" fill="#6e6e6e"/><rect x="2262" y="1831" width="90" height="3" fill="#858585"/>
<circle cx="2384" cy="1841" r="16" fill="#5a5a5a"/><path d="M2384 1834V1841M2380 1838H2388" stroke="#999"/>
<rect x="2267" y="1605" width="125" height="197" fill="#fff"/>
<use href="#ph" transform="translate(2329 1645) scale(1.7)"/><text class="ro f125 m c3" x="2329" y="1685">Congratulations!</text><text class="ro f7 m cb" x="2329" y="1697">Your project has posted up on</text><text class="ro f7 m cb" x="2329" y="1705">the contractor board</text>
<circle class="bb" cx="2288" cy="1736" r="5.500"/><text class="ro f7 m cw" x="2288" y="1738.500">1</text><text class="ro f7 c5" x="2300" y="1737">You will be notified when</text><text class="ro f7 c5" x="2300" y="1745">a contractor is interested</text><text class="ro f7 c5" x="2300" y="1753">in connecting</text></g></g>

<g id="project-1"><text class="lb" x="1276" y="2092">Project 1</text><rect x="1278" y="2115" width="182" height="348" fill="#d6d6d6" style="filter:url(#sh)"/><rect class="hd" x="1278" y="2115" width="182" height="21"/>
<use href="#flt" x="1414" y="2126"/><circle cx="1433" cy="2126" r="6.500" fill="none" stroke="#ddd"/><text class="ro f9 m c5" x="1433" y="2129">!</text><use href="#keb" x="1447.500" y="2126"/>
<text class="ro f8 m c3" x="1307" y="2175">Projects</text><text class="ro f8 m c3" x="1369" y="2175">Messages</text><text class="ro f8 m c3" x="1431" y="2175">Notes</text><rect class="hd" x="1278" y="2180" width="60" height="2"/>
<rect class="hd" x="1289.500" y="2205" width="159.500" height="70"/><rect x="1289.500" y="2205" width="4.500" height="70" fill="#555"/><path d="M1326 2210V2269" stroke="#bbb"/>
<text class="ro f17 m c1" x="1310" y="2241">21</text><text class="ro f11 m c1" x="1308" y="2253">JUN</text><text class="ro f95 c1" x="1341" y="2227">Bathroom Reno</text><text class="ro f8 c1" x="1341" y="2253">Contractor</text><text class="ro f8 c1" x="1341" y="2262">Willie Bradley</text>
<circle cx="1416" cy="2250" r="16" fill="#ddd"/><circle cx="1416" cy="2250" r="11" fill="none" stroke="#bbb"/>
<rect class="hd" x="1289.500" y="2287" width="158.500" height="70"/><rect x="1289.500" y="2287" width="4.500" height="70" fill="#555"/>
<text class="ro f11 m c1" x="1310" y="2302">21</text><text class="ro f75 m c1" x="1310" y="2310">JUN</text><path d="M1311 2316V2328" stroke="#bbb"/><text class="ro f11 m c1" x="1310" y="2341">30</text><text class="ro f75 m c1" x="1310" y="2348">JUN</text>
<text class="ro f95 c1" x="1341" y="2305">Kitchen Reno</text><text class="ro f8 c1" x="1341" y="2329">Mario Pierce</text><rect x="1342" y="2336" width="93" height="4" rx="2" fill="#eee"/><rect x="1342" y="2336" width="39" height="4" fill="#666"/><text class="ro f65 m c1" x="1389" y="2349">40% complete</text>
<rect class="hd" x="1289.500" y="2367" width="158.500" height="70"/>
<text class="ro f11 m c1" x="1310" y="2382">21</text><text class="ro f75 m c1" x="1310" y="2390">JUN</text><path d="M1311 2397V2408" stroke="#bbb"/><text class="ro f11 m c1" x="1310" y="2421">30</text><text class="ro f75 m c1" x="1310" y="2428">JUN</text>
<text class="ro f95 c1" x="1341" y="2386">Kitchen Reno</text><text class="ro f8 c1" x="1341" y="2409">Mario Pierce</text><rect x="1342" y="2417" width="93" height="4" rx="2" fill="#eee"/><text class="ro f65 m c1" x="1389" y="2428">40% complete</text>
<circle cx="1427" cy="2433" r="15" fill="#000" style="filter:url(#sh)"/><path d="M1422 2433H1432M1427 2428V2438" stroke="#fff" stroke-width="1.2"/></g>

<g id="project-1-1"><text class="lb" x="1517" y="2092">Project 1.1</text><rect x="1517" y="2115" width="182" height="348" fill="#d6d6d6" style="filter:url(#sh)"/><rect class="hd" x="1517" y="2115" width="182" height="21"/>
<use href="#flt" x="1653" y="2126"/><circle cx="1672" cy="2126" r="6.500" fill="none" stroke="#ddd"/><text class="ro f9 m c5" x="1672" y="2129">!</text><use href="#keb" x="1686.500" y="2126"/>
<text class="ro f8 m c3" x="1546" y="2175">Projects</text><text class="ro f8 m c3" x="1670" y="2175">Notes</text><rect class="hd" x="1517" y="2180" width="60" height="2"/>
<rect class="hd" x="1528.500" y="2205" width="159.500" height="70"/><rect x="1528.500" y="2205" width="4.500" height="70" fill="#555"/>
<text class="ro f17 m c1" x="1549" y="2241">21</text><text class="ro f11 m c1" x="1547" y="2253">JUN</text>
<circle cx="1655" cy="2250" r="16" fill="#ddd"/>
<rect class="hd" x="1528.500" y="2287" width="158.500" height="70"/><rect x="1528.500" y="2287" width="4.500" height="70" fill="#555"/>
<text class="ro f11 m c1" x="1549" y="2302">21</text><text class="ro f75 m c1" x="1549" y="2310">JUN</text><path d="M1550 2316V2328" stroke="#bbb"/><text class="ro f11 m c1" x="1549" y="2341">30</text><text class="ro f75 m c1" x="1549" y="2348">JUN</text>
<text class="ro f95 c1" x="1580" y="2305">Kitchen Reno</text><text class="ro f8 c1" x="1580" y="2329">Mario Pierce</text><rect x="1581" y="2336" width="93" height="4" rx="2" fill="#eee"/><rect x="1581" y="2336" width="39" height="4" fill="#666"/><text class="ro f65 m c1" x="1628" y="2349">40% complete</text>
<rect class="hd" x="1528.500" y="2367" width="158.500" height="70"/>
<text class="ro f11 m c1" x="1549" y="2382">21</text><text class="ro f75 m c1" x="1549" y="2390">JUN</text><path d="M1550 2397V2408" stroke="#bbb"/><text class="ro f11 m c1" x="1549" y="2421">30</text><text class="ro f75 m c1" x="1549" y="2428">JUN</text>
<text class="ro f95 c1" x="1580" y="2386">Kitchen Reno</text><text class="ro f8 c1" x="1580" y="2409">Mario Pierce</text><rect x="1581" y="2417" width="93" height="4" rx="2" fill="#eee"/><text class="ro f65 m c1" x="1628" y="2428">40% complete</text>
<circle cx="1666" cy="2433" r="15" fill="#000" style="filter:url(#sh)"/><path d="M1661 2433H1671M1666 2428V2438" stroke="#fff" stroke-width="1.2"/>
<rect class="scr" x="1550" y="2143" width="116" height="135"/><text class="ro f75 c3" x="1564" y="2162">Filter By</text><path class="line" d="M1560 2171H1655"/><text class="ro f75 c3" x="1567" y="2190">All</text><rect class="g" x="1550" y="2200" width="116" height="23"/><text class="ro f75 c3" x="1567" y="2213">Current</text><text class="ro f75 c3" x="1567" y="2237">Past</text><text class="ro f75 c3" x="1567" y="2260">Pending</text></g>

<g id="project-2"><text class="lb" x="1756" y="2092">Project 2</text><rect class="scr" x="1755" y="2113" width="183" height="390"/><rect class="g3" x="1755" y="2113" width="183" height="73"/><rect class="hd" x="1755" y="2113" width="183" height="16"/>
<use href="#stat" x="1874" y="2121"/><text class="ro f75 e cd" x="1933" y="2124">12:30 PM</text><use href="#ba" x="1771" y="2144"/><use href="#bell" x="1910" y="2143"/><use href="#keb" x="1928" y="2143"/>
<text class="ro f75 m c5" x="1800" y="2176">MATERIALS</text><text class="ro f75 m c5" x="1890" y="2176">CONTRACTOR</text><rect x="1755" y="2183.500" width="91" height="2" fill="#222"/>
<text class="ro f95 c5" x="1767" y="2212">BATHROOM RENO</text><path d="M1916 2213L1922 2206L1925 2208.500L1919 2215.500L1915.500 2216Z" fill="#333"/><path d="M1767 2219H1927" stroke="#999"/>
<text class="ro f7 ca" x="1767" y="2233">21 JUN - 30 JUL</text><text class="ro f7 ca" x="1767" y="2244">210 x 450 x 900 in</text>
<rect class="g3" x="1755" y="2253" width="183" height="19"/><text class="ro f75 c5" x="1767" y="2266">Labour Cost</text>
<text class="ro f7 c5" x="1767" y="2288">Quote</text><text class="ro f7 c5" x="1893" y="2288">$</text><text class="ro f7 e c5" x="1927" y="2288">753</text>
<rect class="g3" x="1755" y="2298" width="183" height="19"/><text class="ro f75 c5" x="1767" y="2310">Material Cost</text>
<text class="ro f7 c5" x="1767" y="2337">Toilet</text><text class="ro f7 ca" x="1767" y="2346">1</text><text class="ro f7 c5" x="1893" y="2337">$</text><text class="ro f7 e c5" x="1926" y="2337">377</text>
<text class="ro f7 c5" x="1767" y="2362">Vanity</text><text class="ro f7 ca" x="1767" y="2370">2</text><text class="ro f7 c5" x="1893" y="2362">$</text><text class="ro f7 e c5" x="1926" y="2362">315</text>
<text class="ro f7 c5" x="1767" y="2387">Tiles</text><text class="ro f7 ca" x="1767" y="2395">Porcelain</text><text class="ro f7 c5" x="1893" y="2387">$</text><text class="ro f7 e c5" x="1926" y="2387">63</text>
<text class="ro f7 c5" x="1767" y="2410">Shower</text><text class="ro f7 ca" x="1767" y="2418">1</text><text class="ro f7 c5" x="1893" y="2410">$</text><text class="ro f7 e c5" x="1926" y="2410">330</text>
<text class="ro f7 c5" x="1767" y="2433">Bathtub</text><text class="ro f7 ca" x="1767" y="2442">1</text><text class="ro f7 c5" x="1893" y="2433">$</text><text class="ro f7 e c5" x="1926" y="2433">872</text>
<text class="ro f7 c5" x="1767" y="2456">Accessories</text><text class="ro f7 ca" x="1767" y="2465">Shower Head</text><text class="ro f7 c5" x="1893" y="2456">$</text><text class="ro f7 e c5" x="1927" y="2456">381</text>
<rect class="g3" x="1755" y="2477" width="183" height="26"/><text class="ro f8 e c5" x="1885" y="2493">Total</text><text class="ro f115 e c5" x="1927" y="2494">$ 1480</text></g>

<g id="project-3"><text class="lb" x="1992" y="2092">Project 3</text><rect class="scr" x="1994" y="2113" width="182" height="452"/><rect class="g" x="1994" y="2134" width="182" height="73"/><rect class="hd" x="1994" y="2113" width="182" height="21"/><use href="#ba" x="2006" y="2124"/>
<use href="#av" transform="translate(2085 2158) scale(1.6)"/><text class="ro f95 m c3" x="2085" y="2186">Willie Bradley</text>
<use href="#st" x="2058" y="2196" class="sf"/><use href="#st" x="2072" y="2196" class="sf"/><use href="#st" x="2086" y="2196" class="sf"/><use href="#st" x="2100" y="2196" class="sf"/><use href="#st" x="2114" y="2196" class="se"/>
<text class="ro f7 c5" x="2005" y="2223">Summary</text>
<text class="ro f7 m c5" x="2083" y="2238">"The moment you think of buying a Web Hosting</text><text class="ro f7 m c5" x="2083" y="2246">Plan, you know one thing – So many choices,</text><text class="ro f7 m c5" x="2083" y="2254">which one to choose? Whether you would want to</text><text class="ro f7 m c5" x="2083" y="2262">choose Shared Linux Packages or a Unix Package</text><text class="ro f7 m c5" x="2083" y="2271">or do you want to go for a shared windows</text>
<text class="ro f7 c5" x="2005" y="2285">Skills</text><rect class="box" x="2005" y="2288" width="32" height="10" rx="1"/><rect class="box" x="2043" y="2288" width="32" height="10" rx="1"/>
<rect class="g" x="1994" y="2329" width="182" height="192"/><rect class="g" x="1994" y="2528" width="182" height="21"/>
<text class="ro f9 c3" x="2008" y="2343">Reviews</text>
<use href="#av" transform="translate(2017 2364)"/><text class="ro f7 c3" x="2038" y="2366">Estella King</text>
<g transform="translate(0 2364)"><use href="#st" transform="translate(2084 0) scale(.7)" class="sf"/><use href="#st" transform="translate(2094 0) scale(.7)" class="sf"/><use href="#st" transform="translate(2103 0) scale(.7)" class="sf"/><use href="#st" transform="translate(2113 0) scale(.7)" class="se"/><use href="#st" transform="translate(2123 0) scale(.7)" class="se"/></g>
<text class="ro f7 c5" x="2038" y="2380">Poster can be one of the effective</text><text class="ro f7 c5" x="2038" y="2388">marketing and advertising materials.</text><text class="ro f7 c5" x="2038" y="2396">It is also a great tool to use when you</text><text class="ro f7 c5" x="2038" y="2404">want to present your services to a</text><text class="ro f7 c5" x="2038" y="2413">new league or as a point of sale ...</text>
<path d="M2006 2426H2161" stroke="#aaa" stroke-width=".8"/>
<use href="#av" transform="translate(2017 2450)"/><text class="ro f7 c3" x="2037" y="2453">Jane Tucker</text>
<g transform="translate(0 2450)"><use href="#st" transform="translate(2084 0) scale(.7)" class="sf"/><use href="#st" transform="translate(2094 0) scale(.7)" class="sf"/><use href="#st" transform="translate(2103 0) scale(.7)" class="sf"/><use href="#st" transform="translate(2113 0) scale(.7)" class="sf"/><use href="#st" transform="translate(2123 0) scale(.7)" class="se"/></g>
<text class="ro f7 c5" x="2038" y="2467">Okay, you've decided you want to</text><text class="ro f7 c5" x="2038" y="2475">make money with Affiliate Marketing.</text><text class="ro f7 c5" x="2038" y="2483">So, you join some affiliate programs</text><text class="ro f7 c5" x="2038" y="2491">and start submitting free ads to</text><text class="ro f7 c5" x="2038" y="2499">newsletters and free advertising ...</text>
<circle cx="2136" cy="2529" r="16.500" fill="#d6d6d6" stroke="#bbb" stroke-width=".8"/><text class="ro f7 c5" x="2007" y="2541">More Reviews (25)</text></g>

<g id="project-4"><text class="lb" x="2231" y="2092">Project 4</text><rect class="scr" x="2232" y="2115" width="183" height="326"/><rect class="hd" x="2232" y="2115" width="183" height="20"/><use href="#ba" x="2244" y="2126"/><rect class="hd" x="2232" y="2143" width="183" height="51"/>
<circle class="g" cx="2258" cy="2168" r="17"/><text class="f125 c5" x="2283" y="2175">Willie Bradley</text>
<path class="g" d="M2242 2203H2327a7 7 0 0 1 7 7V2241a7 7 0 0 1 -7 7H2251a7 7 0 0 1 -7 -7V2206Z"/><text class="f65 c3" x="2252" y="2216">Why Do Make Ahead</text><text class="f65 c3" x="2252" y="2224">Recipes Work So Well To</text><text class="f65 c3" x="2252" y="2232">Reduce Your Dinner Party</text><text class="f65 c3" x="2252" y="2240">Stress</text>
<path class="hd" d="M2406 2263H2316a7 7 0 0 0 -7 7V2271a7 7 0 0 0 7 7H2397a7 7 0 0 0 7 -7V2266Z"/><text class="f65 c1" x="2314" y="2273">Effective Ways To Quit Smoking</text>
<path class="g" d="M2242 2291H2345a7 7 0 0 1 7 7V2312a7 7 0 0 1 -7 7H2251a7 7 0 0 1 -7 -7V2294Z"/><text class="f65 c3" x="2252" y="2304">Curling Irons Are As Individual As</text><text class="f65 c3" x="2252" y="2312">The Women Who Use Them</text>
<path class="g" d="M2242 2326H2314a7.500 7.500 0 0 1 0 15H2251a7 7 0 0 1 -7 -7V2329Z"/><text class="f65 c3" x="2252" y="2336">Fact And Truth</text>
<path class="hd" d="M2406 2343H2383a7 7 0 0 0 -7 7V2352a7 7 0 0 0 7 7H2397a7 7 0 0 0 7 -7V2346Z"/><text class="f65 m c1" x="2389" y="2353">OK</text>
<rect x="2232" y="2413" width="183" height="28" fill="#dcdcdc"/><path d="M2237 2428H2245M2241 2424V2432" stroke="#aaa"/><rect x="2250" y="2421" width="118" height="14" fill="#dcdcdc" stroke="#bbb"/><text class="f7 cb" x="2257" y="2430">Type something</text><rect x="2374" y="2421" width="34" height="12" rx="2" fill="#aaa"/><text class="f75 m c7" x="2391" y="2430">Send</text></g>

<g id="connectors" class="conn">
<path class="da" d="M255 588H319.500"/>
<path class="da" d="M514 630H559.500"/>
<path class="da" d="M729 578H798.500"/>
<path class="da" d="M990 532H1064Q1082 532 1082 514V369Q1082 351 1100 351H1160.500"/>
<path class="da" d="M880 591V701Q880 751 930 751H1160.500"/>
<path class="da" d="M1274 785V889Q1274 907 1256 907H434Q416 907 416 925V939.500"/>
<path class="da" d="M506 1191H537.500"/>
<path class="aa" d="M757.500 1191H784.500"/>
<path class="aa" d="M995.500 1191H1023.500"/>
<path class="aa" d="M1234.500 1191H1261.500"/>
<path class="aa" d="M1475.500 1191H1502.500"/>
<path class="aa" d="M1713.500 1191H1740.500"/>
<path class="aa" d="M1953.500 1191H1977.500"/>
<path class="dd" d="M1056 1123H1018Q1010 1123 1010 1131V1470Q1010 1478 1018 1478H1055"/>
<path class="dd" d="M1781 1133H1733Q1725 1133 1725 1125V667Q1725 659 1733 659H1757"/>
<path class="dd" d="M2153 1132H2244Q2256 1132 2256 1120V529Q2256 517 2244 517H2018Q2006 517 2006 529V558"/>
<path class="da" d="M2037 1309V1390Q2037 1405 2022 1405H1867Q1852 1405 1852 1420V1430.500"/>
<path class="da" d="M2088.500 1309V1430.500"/>
<path class="da" d="M2142 1309V1390Q2142 1405 2157 1405H2313Q2328 1405 2328 1420V1430.500"/>
<path class="da" d="M1810 1674H1727.500"/>
<path class="da" d="M1603 1822V1935Q1603 1953 1585 1953H1388Q1370 1953 1370 1971V2030.500"/>
<path class="d" d="M2328 1823V1935Q2328 1953 2310 1953H1585"/>
<path class="dd" d="M1414 2111V2010Q1414 1998 1426 1998H1640Q1652 1998 1652 2010V2111"/>
<path class="da" d="M1427 2453V2536Q1427 2556 1407 2556H430Q410 2556 410 2536V1372.500"/>
<path class="da" d="M1278 2244H1219Q1204 2244 1204 2259V2613Q1204 2628 1219 2628H1839Q1854 2628 1854 2613V2530.500"/>
<path class="da" d="M1935 2173H1965.500"/>
<path class="da" d="M2176 2175H2206.500"/>
</g>
</svg>
